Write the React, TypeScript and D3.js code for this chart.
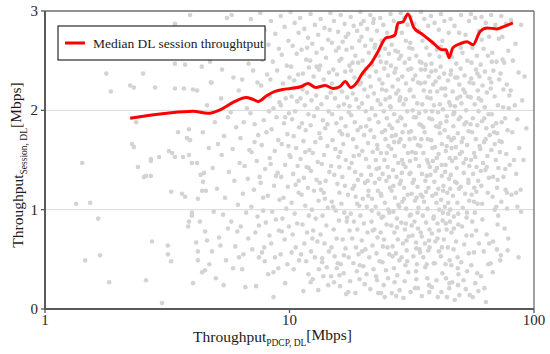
import React from 'react';
import * as d3 from 'd3';

const xTicks = [1, 10, 100];
const yTicks = [0, 1, 2, 3];
const yGrid = [1, 2];
const legendLabel = 'Median DL session throughtput';

const medianPoints: [number, number][] = [
  [2.23, 1.92], [3.15, 1.97], [4.03, 1.99], [4.64, 1.97], [5.25, 2.01], [5.98, 2.09], [6.64, 2.13],
  [7.09, 2.11], [7.44, 2.09], [8.09, 2.15], [8.72, 2.19], [9.4, 2.21], [10.1, 2.22], [11.2, 2.24],
  [11.9, 2.27], [12.8, 2.23], [14.0, 2.25], [15.1, 2.22], [16.1, 2.24], [16.9, 2.29], [17.8, 2.23],
  [19.1, 2.3], [19.6, 2.35], [20.8, 2.43], [21.5, 2.47], [23.0, 2.59], [24.8, 2.73], [26.0, 2.74],
  [27.0, 2.76], [27.8, 2.88], [29.1, 2.89], [30.5, 2.97], [32.3, 2.83], [35.2, 2.76], [38.6, 2.68],
  [42.0, 2.61], [43.7, 2.61], [44.9, 2.53], [46.6, 2.63], [49.8, 2.67], [53.2, 2.69], [56.3, 2.66],
  [60.1, 2.79], [64.3, 2.83], [70.6, 2.82], [74.7, 2.84], [82.0, 2.88],
];

const sparsePoints: [number, number][] = [
  [1.78, 2.37], [1.86, 2.19], [2.23, 2.25], [2.31, 2.23], [2.52, 2.37], [2.82, 2.23], [3.4, 2.22], [3.7, 2.22],
  [4.03, 2.21], [4.19, 2.2], [3.4, 2.87], [3.92, 2.96], [3.4, 2.47], [3.74, 2.46], [2.36, 1.88], [3.5, 1.78],
  [3.88, 1.81], [3.81, 1.72], [3.92, 1.7], [2.27, 1.66], [2.31, 1.63], [3.21, 1.59], [3.31, 1.57], [2.93, 1.53],
  [2.71, 1.51], [3.4, 1.53], [3.67, 1.53], [3.88, 1.55], [1.42, 1.47], [2.4, 1.43], [2.71, 1.49], [2.54, 1.33],
  [2.59, 1.34], [2.71, 1.34], [3.99, 1.47], [4.19, 1.47], [4.47, 1.37], [4.43, 1.28], [4.39, 1.19], [4.55, 1.19],
  [3.28, 1.18], [3.63, 1.16], [3.74, 1.13], [4.22, 1.11], [1.34, 1.06], [1.53, 1.07], [1.65, 0.91], [3.99, 0.97],
  [3.99, 0.94], [3.88, 0.88], [3.85, 0.83], [4.3, 0.88], [2.74, 0.68], [3.18, 0.64], [4.15, 0.67], [4.6, 0.69],
  [1.68, 0.54], [1.46, 0.49], [3.18, 0.55], [3.28, 0.48], [4.22, 0.58], [4.22, 0.49], [4.39, 0.37], [4.51, 0.39],
  [1.83, 0.27], [2.59, 0.29], [4.03, 0.26], [3.01, 0.06], [4.73, 2.49], [5.3, 2.41], [4.77, 2.28],
];

const densePoints: [number, number][] = [
  [4.35, 2.62], [4.6, 2.05], [4.42, 1.78], [4.68, 1.62], [4.33, 1.35], [4.52, 0.78], [4.7, 0.45], [4.38, 2.44],
  [4.8, 2.28], [4.95, 1.88], [5.1, 1.66], [4.85, 1.42], [5.05, 1.21], [4.9, 0.98], [5.15, 0.72], [4.82, 0.58], [5.0, 0.31], [5.12, 2.71],
  [5.55, 2.93], [5.25, 2.12], [5.6, 1.93], [5.4, 1.74], [5.28, 1.55], [5.65, 1.38], [5.45, 1.12], [5.35, 0.95], [5.6, 0.81], [5.22, 0.64], [5.5, 0.49], [5.38, 0.24],
  [5.8, 2.96], [6.1, 2.55], [5.9, 2.33], [6.2, 2.2], [5.75, 1.98], [6.05, 1.83], [5.85, 1.61], [6.25, 1.47], [5.95, 1.29], [6.15, 1.05], [5.78, 0.88], [6.0, 0.63], [6.22, 0.52], [5.88, 0.41], [6.12, 0.78],
  [6.35, 2.83], [6.6, 2.68], [6.8, 2.47], [6.4, 2.31], [6.7, 2.02], [6.5, 1.88], [6.3, 1.72], [6.85, 1.6], [6.55, 1.44], [6.75, 1.31], [6.45, 1.16], [6.65, 0.97], [6.32, 0.83], [6.78, 0.71], [6.48, 0.55], [6.6, 0.22], [6.4, 0.4],
  [6.95, 2.92], [7.3, 2.74], [7.5, 2.58], [7.1, 2.4], [7.4, 2.28], [6.92, 1.97], [7.2, 1.86], [7.45, 1.75], [7.0, 1.58], [7.35, 1.49], [7.55, 1.33], [7.15, 1.2], [6.98, 1.03], [7.4, 0.93], [7.25, 0.77], [7.05, 0.6], [7.5, 0.52], [7.3, 0.23],
  [7.6, 2.98], [7.9, 2.81], [8.2, 2.66], [7.75, 2.51], [8.1, 2.36], [7.65, 2.25], [8.25, 1.99], [7.85, 1.9], [8.05, 1.78], [7.7, 1.65], [8.3, 1.52], [7.95, 1.41], [7.62, 1.27], [8.15, 1.14], [7.8, 0.99], [8.0, 0.87], [8.28, 0.74], [7.72, 0.57], [7.92, 0.48], [8.18, 0.35], [7.88, 0.62],
  [8.4, 2.9], [8.75, 2.77], [9.05, 2.62], [8.55, 2.49], [8.9, 2.4], [8.35, 2.31], [9.1, 2.08], [8.6, 2.02], [8.85, 1.93], [8.45, 1.81], [9.0, 1.7], [8.7, 1.59], [8.38, 1.46], [8.95, 1.37], [8.65, 1.24], [9.1, 1.1], [8.5, 0.98], [8.8, 0.9], [9.05, 0.79], [8.42, 0.66], [8.72, 0.52], [9.0, 0.41], [8.6, 0.12],
  [9.2, 2.95], [9.55, 2.84], [9.9, 2.7], [9.3, 2.56], [9.75, 2.45], [10.0, 2.33], [9.4, 2.27], [9.65, 2.12], [9.22, 2.05], [9.95, 1.97], [9.5, 1.87], [9.8, 1.76], [9.3, 1.66], [10.0, 1.55], [9.6, 1.45], [9.25, 1.33], [9.85, 1.23], [9.45, 1.12], [9.7, 1.01], [9.35, 0.91], [9.95, 0.83], [9.55, 0.7], [9.2, 0.55], [9.8, 0.45], [9.6, 0.26],
  [10.1, 2.99], [10.5, 2.88], [10.9, 2.78], [10.3, 2.65], [10.7, 2.57], [10.15, 2.44], [10.85, 2.36], [10.45, 2.3], [10.2, 2.14], [10.75, 2.09], [10.55, 1.99], [10.25, 1.91], [10.95, 1.83], [10.4, 1.74], [10.65, 1.62], [10.1, 1.53], [10.8, 1.44], [10.35, 1.36], [10.6, 1.25], [10.9, 1.17], [10.2, 1.07], [10.5, 0.96], [10.75, 0.86], [10.3, 0.75], [10.6, 0.62], [10.95, 0.49], [10.4, 0.4],
  [11.05, 2.93], [11.5, 2.82], [11.9, 2.73], [11.2, 2.61], [11.7, 2.51], [12.0, 2.43], [11.35, 2.37], [11.8, 2.18], [11.1, 2.12], [11.55, 2.05], [11.95, 1.96], [11.25, 1.87], [11.65, 1.8], [11.4, 1.69], [12.05, 1.6], [11.1, 1.51], [11.75, 1.43], [11.45, 1.32], [11.9, 1.22], [11.2, 1.15], [11.6, 1.04], [12.0, 0.94], [11.3, 0.85], [11.8, 0.77], [11.5, 0.66], [11.15, 0.55], [11.7, 0.48], [11.95, 0.35], [11.4, 0.18],
  [12.2, 2.97], [12.7, 2.86], [13.1, 2.76], [12.4, 2.67], [12.9, 2.58], [12.15, 2.5], [13.2, 2.41], [12.55, 2.34], [12.85, 2.15], [12.3, 2.1], [13.0, 2.02], [12.6, 1.94], [12.2, 1.85], [13.25, 1.77], [12.75, 1.68], [12.45, 1.57], [13.05, 1.48], [12.25, 1.39], [12.9, 1.3], [12.6, 1.19], [13.15, 1.09], [12.35, 1.0], [12.8, 0.91], [12.5, 0.79], [13.0, 0.68], [12.25, 0.58], [12.7, 0.52], [13.2, 0.4], [12.45, 0.3],
  [13.4, 2.92], [13.9, 2.83], [14.4, 2.71], [13.6, 2.62], [14.1, 2.53], [13.35, 2.45], [14.5, 2.38], [13.8, 2.31], [14.2, 2.13], [13.5, 2.06], [14.45, 1.99], [13.7, 1.9], [14.0, 1.82], [13.4, 1.72], [14.3, 1.64], [13.85, 1.55], [13.55, 1.46], [14.55, 1.38], [14.05, 1.29], [13.45, 1.2], [13.95, 1.11], [14.35, 1.02], [13.65, 0.94], [14.15, 0.84], [13.4, 0.75], [13.9, 0.66], [14.5, 0.58], [13.6, 0.51], [14.2, 0.42], [13.75, 0.33], [14.4, 0.24],
  [14.7, 2.98], [15.2, 2.9], [15.8, 2.79], [14.9, 2.68], [15.5, 2.6], [16.0, 2.5], [15.1, 2.41], [15.65, 2.36], [14.75, 2.18], [15.35, 2.12], [15.9, 2.04], [14.95, 1.96], [15.55, 1.87], [16.05, 1.79], [15.0, 1.7], [15.4, 1.61], [15.85, 1.53], [14.8, 1.44], [15.25, 1.35], [15.7, 1.26], [16.0, 1.17], [14.9, 1.08], [15.45, 0.99], [15.95, 0.89], [15.15, 0.8], [15.6, 0.71], [14.85, 0.62], [15.3, 0.53], [15.75, 0.46], [16.0, 0.34], [15.2, 0.27],
  [16.2, 2.96], [16.8, 2.87], [17.4, 2.77], [16.5, 2.69], [17.1, 2.61], [16.3, 2.52], [17.6, 2.45], [16.9, 2.39], [16.4, 2.19], [17.2, 2.13], [16.7, 2.06], [17.5, 1.98], [16.25, 1.92], [16.95, 1.84], [17.3, 1.75], [16.6, 1.66], [16.15, 1.58], [17.0, 1.5], [17.55, 1.42], [16.45, 1.33], [16.85, 1.24], [17.35, 1.15], [16.3, 1.06], [16.75, 0.97], [17.15, 0.88], [17.6, 0.79], [16.5, 0.7], [16.95, 0.61], [17.45, 0.52], [16.2, 0.45], [17.05, 0.15], [17.4, 0.17], [16.65, 0.36],
  [17.8, 2.94], [18.3, 2.85], [18.9, 2.8], [19.3, 2.7], [18.0, 2.63], [18.6, 2.55], [19.1, 2.48], [17.85, 2.4], [18.45, 2.33], [19.35, 2.26], [18.15, 2.17], [18.75, 2.11], [19.2, 2.03], [17.9, 1.95], [18.5, 1.88], [19.0, 1.8], [18.2, 1.71], [18.8, 1.63], [19.25, 1.55], [17.95, 1.47], [18.55, 1.38], [19.05, 1.3], [18.1, 1.21], [18.65, 1.13], [19.3, 1.04], [17.8, 0.96], [18.35, 0.88], [18.95, 0.8], [18.05, 0.71], [18.7, 0.62], [19.15, 0.55], [18.25, 0.46], [18.85, 0.38], [19.35, 0.3],
  [19.5, 2.99], [20.1, 2.9], [20.8, 2.82], [19.7, 2.74], [20.4, 2.65], [21.1, 2.58], [19.9, 2.5], [20.6, 2.42], [21.25, 2.34], [19.6, 2.28], [20.25, 2.21], [20.9, 2.14], [19.8, 2.07], [20.5, 1.99], [21.2, 1.91], [19.55, 1.83], [20.2, 1.75], [20.95, 1.67], [19.85, 1.59], [20.55, 1.51], [21.15, 1.43], [19.65, 1.35], [20.35, 1.27], [21.05, 1.19], [19.95, 1.11], [20.7, 1.03], [19.5, 0.94], [20.15, 0.86], [20.85, 0.77], [19.75, 0.69], [20.45, 0.6], [21.2, 0.52], [20.05, 0.43], [20.65, 0.35],
  [21.4, 2.96], [22.0, 2.88], [22.8, 2.8], [21.6, 2.71], [22.3, 2.63], [23.2, 2.55], [21.8, 2.46], [22.6, 2.39], [23.3, 2.31], [21.5, 2.24], [22.15, 2.17], [22.95, 2.1], [21.7, 2.02], [22.45, 1.95], [23.1, 1.88], [21.45, 1.8], [22.2, 1.73], [22.85, 1.65], [21.9, 1.58], [22.55, 1.5], [23.25, 1.42], [21.55, 1.35], [22.35, 1.27], [23.0, 1.19], [21.75, 1.11], [22.5, 1.03], [23.15, 0.96], [21.65, 0.88], [22.25, 0.8], [22.9, 0.72], [21.85, 0.64], [22.7, 0.56], [23.35, 0.48], [22.05, 0.4], [22.6, 0.33], [23.05, 0.16],
  [23.5, 2.93], [24.2, 2.86], [25.1, 2.78], [23.8, 2.7], [24.6, 2.62], [25.5, 2.57], [23.6, 2.49], [24.4, 2.42], [25.3, 2.35], [24.0, 2.27], [24.85, 2.2], [25.7, 2.13], [23.55, 2.06], [24.3, 1.99], [25.0, 1.92], [25.65, 1.85], [23.9, 1.78], [24.7, 1.71], [25.4, 1.64], [23.65, 1.57], [24.45, 1.5], [25.2, 1.43], [24.05, 1.36], [24.9, 1.29], [25.75, 1.22], [23.75, 1.14], [24.55, 1.07], [25.35, 1.0], [24.15, 0.93], [24.95, 0.85], [23.6, 0.77], [24.35, 0.7], [25.15, 0.62], [25.6, 0.55], [24.0, 0.47], [24.8, 0.39], [23.7, 0.16], [24.5, 0.12],
  [25.9, 2.97], [26.7, 2.9], [27.6, 2.83], [26.2, 2.66], [27.1, 2.6], [28.1, 2.52], [26.0, 2.45], [26.9, 2.38], [27.8, 2.31], [26.4, 2.24], [27.3, 2.17], [28.2, 2.1], [25.95, 2.03], [26.8, 1.96], [27.7, 1.89], [26.3, 1.82], [27.2, 1.75], [28.0, 1.68], [26.1, 1.61], [26.95, 1.54], [27.85, 1.47], [26.5, 1.4], [27.4, 1.33], [28.25, 1.26], [26.15, 1.19], [27.0, 1.12], [27.9, 1.05], [26.6, 0.98], [27.5, 0.91], [26.05, 0.84], [26.85, 0.77], [27.75, 0.7], [26.4, 0.63], [27.25, 0.56], [28.15, 0.49], [26.75, 0.41], [27.6, 0.34], [26.2, 0.16], [27.3, 0.13],
  [28.5, 2.98], [29.4, 2.93], [30.4, 2.86], [28.8, 2.78], [29.9, 2.7], [30.9, 2.63], [28.6, 2.55], [29.6, 2.48], [30.6, 2.41], [28.9, 2.34], [29.95, 2.27], [31.0, 2.2], [28.4, 2.13], [29.3, 2.06], [30.3, 1.99], [28.7, 1.92], [29.7, 1.85], [30.8, 1.78], [28.45, 1.71], [29.5, 1.64], [30.5, 1.57], [28.85, 1.5], [29.85, 1.43], [30.95, 1.36], [28.55, 1.29], [29.45, 1.22], [30.45, 1.15], [28.95, 1.08], [30.0, 1.01], [31.05, 0.94], [28.65, 0.87], [29.65, 0.8], [30.7, 0.73], [29.1, 0.66], [30.15, 0.59], [28.75, 0.52], [29.8, 0.44], [30.6, 0.37], [29.25, 0.11],
  [31.3, 2.94], [32.4, 2.87], [33.8, 2.8], [31.8, 2.62], [33.0, 2.55], [34.1, 2.49], [31.5, 2.42], [32.7, 2.35], [33.6, 2.28], [31.2, 2.21], [32.2, 2.14], [33.3, 2.07], [31.9, 2.0], [32.9, 1.93], [34.0, 1.86], [31.4, 1.79], [32.5, 1.72], [33.5, 1.65], [31.7, 1.58], [32.8, 1.51], [33.9, 1.44], [31.25, 1.37], [32.3, 1.3], [33.4, 1.23], [31.6, 1.16], [32.6, 1.09], [33.7, 1.02], [31.35, 0.95], [32.45, 0.88], [33.55, 0.81], [31.85, 0.74], [32.95, 0.67], [34.05, 0.6], [32.1, 0.53], [33.2, 0.45], [32.6, 0.21], [33.5, 0.21],
  [34.5, 2.99], [35.6, 2.92], [36.9, 2.85], [35.0, 2.7], [36.3, 2.63], [37.4, 2.56], [34.7, 2.48], [35.9, 2.41], [37.1, 2.34], [34.4, 2.27], [35.4, 2.2], [36.6, 2.13], [34.9, 2.06], [36.0, 1.99], [37.3, 1.92], [34.6, 1.85], [35.7, 1.78], [36.8, 1.71], [34.3, 1.64], [35.3, 1.57], [36.5, 1.5], [37.5, 1.43], [34.8, 1.36], [35.95, 1.29], [37.0, 1.22], [34.45, 1.15], [35.5, 1.08], [36.7, 1.01], [35.1, 0.94], [36.2, 0.87], [37.35, 0.8], [34.75, 0.73], [35.8, 0.66], [36.95, 0.59], [35.25, 0.52], [36.4, 0.45], [37.2, 0.24], [37.3, 0.17],
  [37.9, 2.95], [39.2, 2.88], [40.8, 2.81], [38.5, 2.68], [40.0, 2.61], [41.1, 2.54], [38.1, 2.47], [39.6, 2.4], [40.9, 2.33], [38.7, 2.26], [40.2, 2.19], [37.8, 2.12], [39.0, 2.05], [40.5, 1.98], [38.3, 1.91], [39.8, 1.84], [41.2, 1.77], [38.0, 1.7], [39.4, 1.63], [40.7, 1.56], [38.6, 1.49], [40.1, 1.42], [37.7, 1.35], [39.1, 1.28], [40.6, 1.21], [38.4, 1.14], [39.9, 1.07], [41.0, 1.0], [38.9, 0.93], [40.3, 0.86], [38.2, 0.76], [39.5, 0.68], [40.85, 0.58], [39.3, 0.46], [40.4, 0.12],
  [41.6, 2.97], [43.0, 2.9], [44.8, 2.78], [42.2, 2.7], [43.8, 2.58], [41.5, 2.44], [42.9, 2.37], [44.5, 2.3], [41.8, 2.22], [43.4, 2.15], [45.0, 2.08], [42.4, 2.01], [44.0, 1.94], [41.4, 1.87], [43.1, 1.8], [44.7, 1.73], [42.0, 1.66], [43.6, 1.59], [45.2, 1.52], [41.9, 1.45], [43.3, 1.38], [44.9, 1.31], [42.6, 1.24], [44.2, 1.17], [41.7, 1.1], [43.2, 1.03], [44.6, 0.96], [42.3, 0.89], [43.9, 0.8], [42.8, 0.7], [44.4, 0.62], [45.1, 0.26], [45.0, 0.21],
  [41.6, 0.53], [43.5, 0.45], [42.2, 0.36], [44.1, 0.12],
  [45.6, 2.92], [47.3, 2.85], [49.4, 2.78], [46.2, 2.54], [48.1, 2.47], [45.8, 2.4], [47.6, 2.33], [49.5, 2.26], [46.5, 2.19], [48.5, 2.12], [45.5, 2.05], [47.2, 1.98], [49.2, 1.91], [46.8, 1.84], [48.8, 1.77], [45.9, 1.7], [47.9, 1.63], [49.7, 1.56], [46.3, 1.49], [48.3, 1.42], [45.7, 1.35], [47.5, 1.28], [49.3, 1.21], [46.6, 1.14], [48.6, 1.07], [45.4, 1.0], [47.0, 0.93], [49.0, 0.85], [46.0, 0.77], [48.0, 0.68], [47.4, 0.09], [49.5, 0.14],
  [46.9, 0.6], [48.7, 0.52], [45.9, 0.44], [49.1, 0.35],
  [50.3, 2.96], [52.5, 2.76], [54.2, 2.9], [51.0, 2.58], [53.4, 2.5], [50.1, 2.42], [52.0, 2.35], [54.5, 2.28], [51.4, 2.21], [53.7, 2.14], [50.5, 2.07], [52.8, 2.0], [50.0, 1.93], [51.9, 1.86], [54.0, 1.79], [51.2, 1.72], [53.3, 1.65], [50.7, 1.58], [52.6, 1.51], [54.4, 1.44], [51.6, 1.37], [53.9, 1.3], [50.2, 1.23], [52.3, 1.16], [54.3, 1.09], [51.1, 1.02], [53.0, 0.92], [50.8, 0.83], [52.9, 0.74],
  [51.8, 0.65], [54.1, 0.56], [50.4, 0.47], [53.2, 0.38], [51.5, 0.29], [54.6, 0.14],
  [55.2, 2.97], [57.5, 2.93], [59.5, 2.8], [56.0, 2.63], [58.4, 2.55], [55.5, 2.48], [57.9, 2.41], [59.8, 2.34], [56.5, 2.27], [58.9, 2.2], [55.1, 2.13], [57.2, 2.06], [59.3, 1.99], [56.2, 1.92], [58.6, 1.85], [55.8, 1.78], [57.8, 1.71], [59.9, 1.64], [56.9, 1.57], [55.3, 1.5], [58.2, 1.43], [56.4, 1.36], [59.1, 1.29], [57.0, 1.22], [55.6, 1.15], [58.8, 1.06], [57.3, 0.97],
  [55.9, 0.88], [58.0, 0.79], [59.6, 0.66], [56.8, 0.57], [55.4, 0.44], [58.6, 0.36], [57.5, 0.26],
  [61.0, 2.94], [63.5, 2.88], [65.5, 2.74], [62.2, 2.62], [64.8, 2.55], [60.5, 2.46], [63.0, 2.39], [65.8, 2.32], [61.6, 2.25], [64.2, 2.18], [60.8, 2.1], [62.9, 2.03], [65.2, 1.96], [61.3, 1.89], [63.8, 1.82], [65.9, 1.75], [62.5, 1.68], [60.3, 1.61], [64.5, 1.54], [61.9, 1.47], [63.3, 1.4], [65.4, 1.32], [60.9, 1.24], [62.7, 0.21], [63.6, 0.07],
  [61.5, 0.9], [64.0, 0.75], [62.3, 0.58], [65.0, 0.45], [60.7, 0.33],
  [66.8, 2.96], [69.5, 2.86], [71.8, 2.72], [67.5, 2.58], [70.3, 2.49], [68.2, 2.4], [72.0, 2.31], [66.5, 2.22], [69.0, 2.14], [71.2, 2.05], [67.2, 1.96], [70.0, 1.87], [68.7, 1.78], [72.3, 1.69], [66.9, 1.6], [69.8, 1.5], [71.5, 1.42], [68.0, 1.33], [70.6, 1.22], [67.7, 1.13],
  [69.0, 1.0], [71.0, 0.85], [68.0, 0.68], [70.5, 0.6], [66.5, 0.46], [67.8, 0.37], [71.0, 1.3],
  [73.5, 2.95], [76.8, 2.87], [74.2, 2.74], [78.5, 2.6], [75.5, 2.48], [73.0, 2.37], [77.4, 2.26], [79.2, 2.15], [74.8, 2.03], [76.2, 1.92], [78.0, 1.8], [73.8, 1.68], [77.0, 1.56], [79.5, 1.45], [75.0, 1.33], [76.5, 1.2],
  [73.5, 1.08], [75.8, 0.81], [78.5, 0.71], [78.0, 0.59], [73.2, 0.54], [72.8, 0.49], [77.5, 1.17],
  [80.5, 2.91], [84.0, 2.67], [82.0, 2.5], [86.5, 2.38], [80.3, 2.2], [83.5, 2.05], [85.5, 1.91], [81.5, 1.78], [87.0, 1.62], [82.8, 1.5], [84.6, 1.36], [80.9, 1.15],
  [84.5, 1.17], [85.5, 1.03], [86.5, 0.52],
  [88.5, 2.86], [91.5, 2.34], [89.5, 2.1], [93.0, 1.82], [90.5, 1.5], [88.2, 1.2], [88.5, 0.98],
];

const extraPoints: [number, number][] = [
  [11.6, 1.58], [12.4, 0.71], [13.8, 1.17], [14.9, 2.27], [15.6, 0.41], [16.4, 1.76], [17.2, 0.92], [18.1, 2.48],
  [18.9, 1.06], [19.8, 0.58], [20.6, 1.84], [21.7, 0.99], [22.4, 2.66], [23.3, 1.31], [24.1, 0.63], [25.0, 1.57],
  [25.8, 2.04], [26.6, 1.24], [27.5, 0.82], [28.4, 1.93], [29.2, 1.46], [30.1, 0.69], [31.0, 1.71], [32.0, 2.31],
  [33.1, 1.12], [34.2, 0.57], [35.3, 1.83], [36.4, 1.34], [37.6, 2.19], [38.8, 0.91], [40.0, 1.52], [41.2, 2.06],
  [42.5, 1.19], [43.9, 1.64], [45.3, 0.88], [46.8, 1.96], [48.3, 1.27], [49.9, 2.14], [51.5, 1.47], [53.2, 0.97],
  [55.0, 1.86], [56.8, 1.08], [58.7, 2.37], [60.6, 1.39], [62.6, 1.92], [64.7, 1.17], [66.9, 2.28], [69.1, 1.66],
  [71.4, 0.94], [73.8, 1.88], [76.3, 1.41], [78.9, 2.02],
  [11.3, 2.21], [12.0, 1.42], [12.9, 2.44], [13.6, 0.47], [14.3, 1.86], [15.1, 1.03], [15.9, 2.63], [16.7, 0.54],
  [17.6, 2.04], [18.4, 1.24], [19.4, 0.44], [20.2, 2.37], [21.0, 1.14], [21.9, 0.79], [22.9, 1.61], [23.8, 0.92],
  [24.7, 2.11], [25.5, 1.33], [26.4, 0.53], [27.2, 2.42], [28.1, 1.03], [29.0, 1.78], [29.9, 0.86], [30.9, 2.52],
  [31.9, 1.27], [32.9, 0.38], [33.9, 1.97], [35.0, 1.13], [36.1, 2.46], [37.2, 0.69], [38.4, 1.62], [39.6, 2.29],
  [40.8, 0.79], [42.0, 1.34], [43.3, 2.22], [44.6, 1.07], [46.0, 1.62], [47.5, 2.04], [49.0, 0.96], [50.6, 1.68],
  [52.2, 2.18], [53.9, 1.27], [55.7, 0.74], [57.5, 1.53], [59.4, 2.12], [61.4, 1.06], [63.4, 1.71], [65.6, 0.66],
  [67.8, 1.84], [70.1, 1.03], [72.5, 1.58], [75.0, 2.21], [77.6, 1.01],
  [12.2, 0.27], [13.1, 0.19], [14.8, 0.33], [16.1, 0.23], [17.7, 0.28], [18.6, 0.16], [20.3, 0.25], [21.4, 0.2],
  [22.8, 0.29], [24.3, 0.24], [25.3, 0.31], [26.9, 0.27], [28.2, 0.19], [29.6, 0.28], [31.3, 0.17], [33.0, 0.3],
  [34.8, 0.13], [36.6, 0.31], [38.2, 0.22], [39.9, 0.29], [41.8, 0.17], [43.7, 0.31], [46.3, 0.27], [48.9, 0.24],
  [52.6, 0.2], [56.2, 0.12], [59.2, 0.18],
  [11.8, 2.63], [13.3, 1.27], [14.6, 2.81], [16.0, 1.43], [17.0, 2.74], [18.3, 1.54], [19.6, 2.87], [20.9, 1.29],
  [22.1, 2.92], [23.6, 1.16], [24.9, 2.48], [26.2, 1.74], [27.8, 2.59], [29.4, 1.11], [31.2, 2.68], [32.8, 1.57],
  [34.5, 2.41], [36.2, 1.18], [38.0, 2.39], [39.7, 1.16], [41.5, 2.64], [43.5, 1.45], [45.6, 2.36], [47.8, 1.52],
  [50.2, 2.63], [52.8, 1.88], [55.4, 2.32], [58.1, 1.18], [61.1, 2.71], [64.1, 1.43], [67.2, 2.49], [70.7, 1.77],
  [74.4, 2.51],
  [7.2, 1.68], [7.8, 1.12], [8.3, 2.14], [8.8, 1.34], [9.3, 0.78], [9.9, 1.64], [10.4, 2.22], [10.9, 1.29],
  [7.5, 0.84], [8.6, 0.37], [9.6, 1.93], [10.2, 0.57],
  [22.7, 1.41], [23.9, 2.21], [24.6, 1.8], [25.6, 0.97], [26.8, 1.68], [27.9, 2.2], [28.8, 1.37], [29.9, 2.11],
  [31.1, 1.49], [32.3, 1.93], [33.4, 0.97], [34.6, 1.71], [35.8, 2.28], [37.0, 1.47], [38.3, 1.99], [39.5, 1.39],
  [40.9, 1.83], [42.4, 0.97], [43.8, 1.89], [45.4, 1.21], [47.0, 1.72], [48.6, 2.33],
  [30.3, 0.48], [31.6, 0.84], [33.0, 0.61], [34.4, 0.77], [35.9, 0.42], [37.4, 0.62], [38.9, 0.46], [40.3, 0.71],
  [42.0, 0.62], [43.6, 0.86], [45.2, 0.49], [47.0, 0.81], [48.8, 0.41],
];

const W = 550;
const H = 354;
const left = 45;
const right = 534;
const top = 11;
const bottom = 309;
const serif = '"Liberation Serif", "Times New Roman", Times, serif';

export default function App() {
  const x = d3.scaleLog().domain([1, 100]).range([left, right]);
  const y = d3.scaleLinear().domain([0, 3]).range([bottom, top]);
  const line = d3
    .line<[number, number]>()
    .x((d) => x(d[0]))
    .y((d) => y(d[1]))
    .curve(d3.curveMonotoneX);
  const allPoints = [...sparsePoints, ...densePoints, ...extraPoints];

  return (
    <svg
      width={W}
      height={H}
      viewBox={`0 0 ${W} ${H}`}
      style={{ position: 'absolute', left: 0, top: 0, background: '#fff' }}
      fontFamily={serif}
    >
      <rect x={0} y={0} width={W} height={H} fill="#fff" />
      {yGrid.map((g) => (
        <line key={g} x1={left} x2={right} y1={y(g)} y2={y(g)} stroke="#d9d9d9" strokeWidth={1} />
      ))}
      <g fill="#d3d3d3">
        {allPoints.map((p, i) => (
          <circle key={i} cx={x(p[0])} cy={y(p[1])} r={2.3} />
        ))}
      </g>
      <path d={line(medianPoints) || ''} fill="none" stroke="#ff0000" strokeWidth={3} strokeLinejoin="round" />
      <line x1={left} x2={right} y1={top} y2={top} stroke="#6e6e6e" strokeWidth={1.3} />
      <line x1={right} x2={right} y1={top} y2={bottom} stroke="#6e6e6e" strokeWidth={1.3} />
      <line x1={left} x2={left} y1={top} y2={bottom + 1} stroke="#595959" strokeWidth={2} />
      <line x1={left - 1} x2={right} y1={bottom} y2={bottom} stroke="#595959" strokeWidth={2} />
      {yTicks.map((t) => (
        <g key={t}>
          <line x1={left - 4} x2={left} y1={y(t)} y2={y(t)} stroke="#595959" strokeWidth={1.3} />
          <text x={left - 7} y={y(t)} dy="0.34em" textAnchor="end" fontSize={15} fill="#262626">
            {t}
          </text>
        </g>
      ))}
      {xTicks.map((t) => (
        <g key={t}>
          <line x1={x(t)} x2={x(t)} y1={bottom} y2={bottom + 4} stroke="#595959" strokeWidth={1.3} />
          <text x={x(t)} y={bottom + 16} textAnchor="middle" fontSize={15} fill="#262626">
            {t}
          </text>
        </g>
      ))}
      <rect x={58} y={26} width={207} height={34} fill="#fff" stroke="#000" strokeWidth={1} />
      <line x1={65} x2={85} y1={43} y2={43} stroke="#ff0000" strokeWidth={3} />
      <text x={93} y={48} fontSize={13.5} fill="#1a1a1a">
        {legendLabel}
      </text>
      <text x={193} y={342} fontSize={15.5} fill="#1a1a1a">
        Throughput
        <tspan fontSize={9.5} dy={4}>
          PDCP, DL
        </tspan>
        <tspan fontSize={15.5} dy={-6}>
          [Mbps]
        </tspan>
      </text>
      <text transform="translate(23,165) rotate(-90)" textAnchor="middle" fontSize={15.5} fill="#1a1a1a">
        Throughput
        <tspan fontSize={9.5} dy={4}>
          Session, DL
        </tspan>
        <tspan fontSize={15.5} dy={-6}>
          [Mbps]
        </tspan>
      </text>
    </svg>
  );
}
